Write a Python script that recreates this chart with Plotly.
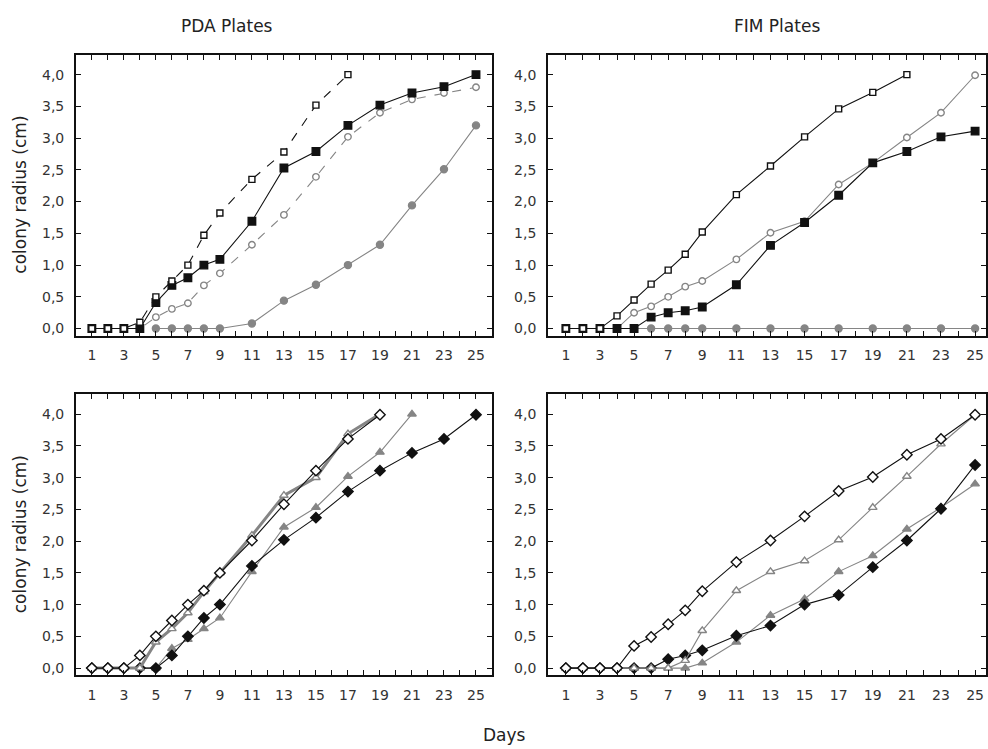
import plotly.graph_objects as go
from plotly.subplots import make_subplots

days = [1, 2, 3, 4, 5, 6, 7, 8, 9, 11, 13, 15, 17, 19, 21, 23, 25]

# PDA plates, top panel
pda_open_sq = [0, 0, 0, 0.1, 0.5, 0.75, 1.0, 1.47, 1.82, 2.35, 2.78, 3.52, 4.0]
pda_filled_sq = [0, 0, 0, 0, 0.41, 0.68, 0.8, 1.0, 1.09, 1.69, 2.53, 2.79, 3.2, 3.52, 3.71, 3.81, 4.0]
pda_open_circ = [0, 0, 0, 0, 0.18, 0.31, 0.4, 0.68, 0.87, 1.32, 1.79, 2.39, 3.02, 3.4, 3.61, 3.71, 3.8]
pda_gray_circ = [0, 0, 0, 0, 0, 0.08, 0.44, 0.69, 1.0, 1.32, 1.94, 2.51, 3.2]

# FIM plates, top panel
fim_open_sq = [0, 0, 0, 0.2, 0.45, 0.7, 0.92, 1.17, 1.52, 2.11, 2.56, 3.02, 3.46, 3.72, 4.0]
fim_open_circ = [0, 0, 0, 0, 0.25, 0.35, 0.5, 0.66, 0.75, 1.09, 1.51, 1.69, 2.27, 2.61, 3.01, 3.4, 3.99]
fim_filled_sq = [0, 0, 0, 0, 0, 0.18, 0.25, 0.28, 0.34, 0.69, 1.31, 1.67, 2.1, 2.61, 2.79, 3.02, 3.11]
fim_gray_circ = [0, 0, 0, 0, 0, 0, 0, 0, 0, 0, 0, 0, 0]

# PDA plates, bottom panel
pda_open_dia = [0, 0, 0, 0.2, 0.5, 0.75, 1.0, 1.22, 1.5, 2.01, 2.58, 3.11, 3.61, 3.99]
pda_open_tri = [0, 0, 0, 0, 0.41, 0.62, 0.87, 1.2, 1.5, 2.09, 2.72, 3.0, 3.69, 4.0]
pda_filled_dia = [0, 0, 0, 0, 0, 0.2, 0.5, 0.79, 1.0, 1.61, 2.02, 2.37, 2.78, 3.11, 3.39, 3.61, 3.99]
pda_gray_tri = [0, 0, 0, 0, 0, 0.31, 0.45, 0.62, 0.79, 1.52, 2.22, 2.53, 3.02, 3.4, 4.0]

# FIM plates, bottom panel
fim_open_dia = [0, 0, 0, 0, 0.35, 0.49, 0.69, 0.91, 1.21, 1.67, 2.01, 2.39, 2.79, 3.01, 3.36, 3.61, 3.99]
fim_open_tri = [0, 0, 0, 0, 0, 0, 0, 0.12, 0.59, 1.22, 1.52, 1.69, 2.02, 2.53, 3.02, 3.53, 3.99]
fim_filled_dia = [0, 0, 0, 0, 0, 0, 0.14, 0.2, 0.28, 0.51, 0.67, 1.0, 1.15, 1.59, 2.01, 2.51, 3.2]
fim_gray_tri = [0, 0, 0, 0, 0, 0, 0, 0, 0.08, 0.41, 0.83, 1.09, 1.52, 1.77, 2.19, 2.53, 2.9]

BLACK = "#111111"
GRAY = "#858585"
FONT = "DejaVu Sans, Verdana, sans-serif"


def series(fig, x, y, row, col, symbol, fill, edge, line_color, dash="solid", lw=1.1, size=6):
    fig.add_trace(go.Scatter(
        x=x, y=y, mode="lines+markers",
        line=dict(color=line_color, width=lw, dash=dash),
        marker=dict(symbol=symbol, size=size, color=fill, line=dict(color=edge, width=1.4)),
        cliponaxis=False, showlegend=False,
    ), row=row, col=col)


fig = make_subplots(rows=2, cols=2)

# top left
series(fig, days[4:], pda_gray_circ, 1, 1, "circle", GRAY, GRAY, GRAY, size=7)
series(fig, days, pda_open_circ, 1, 1, "circle", "white", GRAY, GRAY, dash="dash", size=6.5)
series(fig, days, pda_filled_sq, 1, 1, "square", BLACK, BLACK, BLACK, size=7.5)
series(fig, days[:len(pda_open_sq)], pda_open_sq, 1, 1, "square", "white", BLACK, BLACK, dash="dash")

# top right
series(fig, days[4:], fim_gray_circ, 1, 2, "circle", GRAY, GRAY, GRAY, size=7)
series(fig, days, fim_open_circ, 1, 2, "circle", "white", GRAY, GRAY, size=6.5)
series(fig, days, fim_filled_sq, 1, 2, "square", BLACK, BLACK, BLACK, size=7.5)
series(fig, days[:len(fim_open_sq)], fim_open_sq, 1, 2, "square", "white", BLACK, BLACK)

# bottom left
series(fig, days[:len(pda_gray_tri)], pda_gray_tri, 2, 1, "triangle-up", GRAY, GRAY, GRAY, size=7.5)
series(fig, days, pda_filled_dia, 2, 1, "diamond", BLACK, BLACK, BLACK, size=8)
series(fig, days[:len(pda_open_tri)], pda_open_tri, 2, 1, "triangle-up", "white", GRAY, GRAY, lw=3, size=7.5)
series(fig, days[:len(pda_open_dia)], pda_open_dia, 2, 1, "diamond", "white", BLACK, BLACK, size=8)

# bottom right
series(fig, days, fim_gray_tri, 2, 2, "triangle-up", GRAY, GRAY, GRAY, size=7.5)
series(fig, days, fim_filled_dia, 2, 2, "diamond", BLACK, BLACK, BLACK, size=8)
series(fig, days, fim_open_tri, 2, 2, "triangle-up", "white", GRAY, GRAY, size=7.5)
series(fig, days, fim_open_dia, 2, 2, "diamond", "white", BLACK, BLACK, size=8)

W, H = 988, 749
xdom = {1: [76 / W, 493 / W], 2: [549 / W, 1.0]}
ydom = {1: [1 - 336 / H, 1 - 55 / H], 2: [1 - 676 / H, 1 - 395 / H]}
xrng = {1: [0, 26], 2: [-0.054, 25.64]}

all_days = list(range(1, 26))
day_text = [str(d) if d % 2 == 1 else "" for d in all_days]
tick_font = dict(family=FONT, size=14, color="#333")

for r in (1, 2):
    for c in (1, 2):
        fig.update_xaxes(
            row=r, col=c, domain=xdom[c], range=xrng[c],
            tickvals=all_days, ticktext=day_text, ticks="inside", ticklen=5,
            tickcolor=BLACK, showline=True, linecolor=BLACK, linewidth=1.5,
            mirror="allticks", showgrid=False, zeroline=False,
            tickfont=tick_font, ticklabelstandoff=6,
        )
        fig.update_yaxes(
            row=r, col=c, domain=ydom[r], range=[-0.11, 4.31],
            tickvals=[0, 0.5, 1, 1.5, 2, 2.5, 3, 3.5, 4], tickformat=".1f",
            ticks="inside", ticklen=5, tickcolor=BLACK,
            showline=True, linecolor=BLACK, linewidth=1.5,
            mirror="allticks", showgrid=False, zeroline=False,
            tickfont=tick_font, ticklabelstandoff=7,
        )

txt = dict(family=FONT, size=17, color="#222")
notes = [
    ("PDA Plates", 227, 26, 0),
    ("FIM Plates", 779, 26, 0),
    ("Days", 506, 736, 0),
    ("colony radius (cm)", 20, 195, -90),
    ("colony radius (cm)", 20, 535, -90),
]
for t, x, y, ang in notes:
    fig.add_annotation(text=t, x=x / W, y=1 - y / H, xref="paper", yref="paper",
                       xanchor="center", yanchor="middle",
                       showarrow=False, textangle=ang, font=txt)

fig.update_layout(
    width=W, height=H, autosize=False,
    margin=dict(l=0, r=0, t=0, b=0),
    paper_bgcolor="white", plot_bgcolor="white",
    separators=",.",
)

fig.write_html("out.html", config={"displayModeBar": False},
               post_script="document.body.style.margin='0';")
